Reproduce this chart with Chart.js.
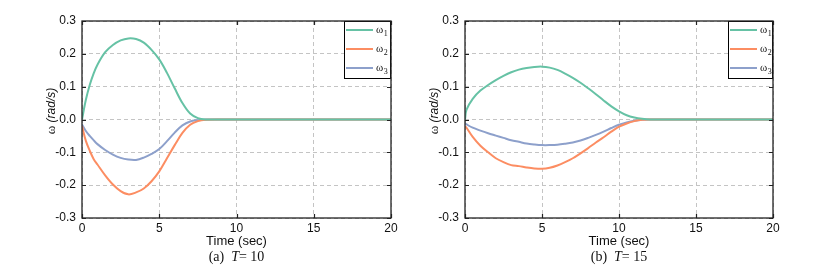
<!DOCTYPE html>
<html>
<head>
<meta charset="utf-8">
<script src="https://cdn.jsdelivr.net/npm/chart.js@4.4.0/dist/chart.umd.min.js"></script>
<style>
  html, body { margin: 0; padding: 0; background: #fff; }
  #wrap { position: relative; width: 828px; height: 279px; }
  canvas { position: absolute; top: 0; }
</style>
</head>
<body>
<div id="wrap">
  <canvas id="chartA" width="414" height="279" style="left:0"></canvas>
  <canvas id="chartB" width="414" height="279" style="left:414px"></canvas>
</div>
<script>
const seriesSubs = ['1', '2', '3'];
const seriesColors = ['#66c2a5', '#fc8d62', '#8da0cb'];
const xTicks = [0, 5, 10, 15, 20];
const yTicks = [-0.3, -0.2, -0.1, 0, 0.1, 0.2, 0.3];

// panel (a) T = 10
const timeA = [0, 0.25, 0.5, 0.75, 1, 1.5, 2, 2.5, 3, 3.5, 4, 4.5, 5, 5.5, 6, 6.5, 7, 7.5, 8, 9, 10, 20];
const w1A = [0, 0.06, 0.105, 0.14, 0.167, 0.205, 0.227, 0.241, 0.247, 0.245, 0.234, 0.212, 0.183, 0.142, 0.095, 0.05, 0.018, 0.004, 0, 0, 0, 0];
const w2A = [-0.02, -0.065, -0.095, -0.12, -0.137, -0.17, -0.198, -0.218, -0.228, -0.222, -0.21, -0.188, -0.158, -0.118, -0.078, -0.041, -0.016, -0.005, -0.001, 0, 0, 0];
const w3A = [-0.015, -0.035, -0.05, -0.063, -0.075, -0.093, -0.107, -0.117, -0.122, -0.123, -0.116, -0.105, -0.09, -0.066, -0.04, -0.018, -0.006, -0.002, 0, 0, 0, 0];

// panel (b) T = 15
const timeB = [0, 0.1, 0.5, 1, 1.5, 2, 2.5, 3, 3.5, 4, 4.5, 5, 5.5, 6, 6.5, 7, 7.5, 8, 8.5, 9, 9.5, 10, 10.5, 11, 11.5, 12, 15, 20];
const w1B = [0, 0.03, 0.063, 0.088, 0.105, 0.12, 0.133, 0.144, 0.152, 0.157, 0.16, 0.161, 0.158, 0.151, 0.14, 0.127, 0.112, 0.095, 0.077, 0.058, 0.04, 0.025, 0.013, 0.006, 0.002, 0, 0, 0];
const w2B = [-0.02, -0.025, -0.053, -0.08, -0.1, -0.118, -0.13, -0.139, -0.142, -0.146, -0.149, -0.15, -0.147, -0.14, -0.13, -0.118, -0.103, -0.087, -0.07, -0.054, -0.037, -0.022, -0.012, -0.005, -0.001, 0, 0, 0];
const w3B = [-0.012, -0.015, -0.025, -0.034, -0.042, -0.049, -0.056, -0.063, -0.068, -0.073, -0.076, -0.078, -0.078, -0.077, -0.074, -0.07, -0.064, -0.056, -0.047, -0.037, -0.026, -0.016, -0.009, -0.004, -0.001, 0, 0, 0];

const SANS = '"Liberation Sans", Arial, sans-serif';
const SERIF = '"Liberation Serif", "Times New Roman", serif';

const framePlugin = {
    id: 'frame',
    afterDraw(chart, args, opts) {
        const ctx = chart.ctx;
        const a = chart.chartArea;
        const xs = chart.scales.x, ys = chart.scales.y;
        ctx.save();

        // inward ticks
        ctx.strokeStyle = '#222';
        ctx.lineWidth = 1.2;
        ctx.beginPath();
        xTicks.forEach(v => {
            const px = Math.round(xs.getPixelForValue(v)) + 0.5;
            ctx.moveTo(px, a.bottom); ctx.lineTo(px, a.bottom - 4);
            ctx.moveTo(px, a.top); ctx.lineTo(px, a.top + 4);
        });
        yTicks.forEach(v => {
            const py = Math.round(ys.getPixelForValue(v)) + 0.5;
            ctx.moveTo(a.left, py); ctx.lineTo(a.left + 4, py);
            ctx.moveTo(a.right, py); ctx.lineTo(a.right - 4, py);
        });
        ctx.stroke();

        // legend box
        const lw = opts.legendWidth;
        const bx = a.right - lw, by = a.top;
        ctx.fillStyle = '#fff';
        ctx.fillRect(bx, by, lw, 57);
        ctx.strokeStyle = '#000';
        ctx.lineWidth = 1;
        ctx.strokeRect(bx + 0.5, by + 0.5, lw - 1, 57);
        seriesColors.forEach((c, i) => {
            const ly = by + 9 + i * 19;
            ctx.strokeStyle = c;
            ctx.lineWidth = 2;
            ctx.beginPath();
            ctx.moveTo(bx + 2, ly); ctx.lineTo(bx + 29, ly);
            ctx.stroke();
            ctx.fillStyle = '#111';
            ctx.textAlign = 'left';
            ctx.textBaseline = 'alphabetic';
            ctx.font = '11px ' + SERIF;
            ctx.fillText('ω', bx + 32, ly + 3);
            const w = ctx.measureText('ω').width;
            ctx.font = '8px ' + SERIF;
            ctx.fillText(seriesSubs[i], bx + 32 + w + 0.5, ly + 6);
        });

        // frame
        ctx.strokeStyle = '#222';
        ctx.lineWidth = 1.3;
        ctx.strokeRect(a.left, a.top, a.right - a.left, a.bottom - a.top);

        // x title + caption
        const cx = (a.left + a.right) / 2;
        ctx.fillStyle = '#111';
        ctx.textAlign = 'center';
        ctx.textBaseline = 'alphabetic';
        ctx.font = '13px ' + SANS;
        ctx.fillText('Time (sec)', cx, 245);

        const p1 = opts.caption + '  ';
        const p2 = 'T';
        const p3 = '= ' + opts.T;
        ctx.font = '14px ' + SERIF;
        const w1 = ctx.measureText(p1).width;
        const w3 = ctx.measureText(p3).width;
        ctx.font = 'italic 14px ' + SERIF;
        const w2 = ctx.measureText(p2).width;
        let sx = cx - (w1 + w2 + w3) / 2;
        ctx.textAlign = 'left';
        ctx.font = '14px ' + SERIF;
        ctx.fillText(p1, sx, 261);
        ctx.font = 'italic 14px ' + SERIF;
        ctx.fillText(p2, sx + w1, 261);
        ctx.font = '14px ' + SERIF;
        ctx.fillText(p3, sx + w1 + w2, 261);

        // y title
        ctx.translate(a.left - 30, 111);
        ctx.rotate(-Math.PI / 2);
        ctx.font = '13px ' + SERIF;
        const tw1 = ctx.measureText('ω ').width;
        ctx.font = 'italic 12px ' + SANS;
        const tw2 = ctx.measureText('(rad/s)').width;
        let ty = -(tw1 + tw2) / 2;
        ctx.textBaseline = 'middle';
        ctx.font = '13px ' + SERIF;
        ctx.fillText('ω ', ty, 0);
        ctx.font = 'italic 12px ' + SANS;
        ctx.fillText('(rad/s)', ty + tw1, 0);

        ctx.restore();
    }
};

function buildData(time, vals) {
    return time.map((t, i) => ({ x: t, y: vals[i] }));
}

function makeChart(id, time, w1, w2, w3, pad, caption, T, legendWidth) {
    const ctx = document.getElementById(id);
    return new Chart(ctx, {
        type: 'line',
        data: {
            datasets: [w1, w2, w3].map((vals, i) => ({
                label: 'ω' + seriesSubs[i],
                data: buildData(time, vals),
                borderColor: seriesColors[i],
                backgroundColor: seriesColors[i],
                borderWidth: 2,
                pointRadius: 0,
                tension: 0.35,
                fill: false
            }))
        },
        options: {
            responsive: false,
            animation: false,
            devicePixelRatio: 1,
            layout: { padding: pad },
            plugins: {
                legend: { display: false },
                tooltip: { enabled: false },
                frame: { caption: caption, T: T, legendWidth: legendWidth }
            },
            scales: {
                x: {
                    type: 'linear',
                    min: 0,
                    max: 20,
                    afterFit: (s) => { s.height = 30; },
                    ticks: {
                        stepSize: 5,
                        padding: 3,
                        color: '#111',
                        font: { family: SANS, size: 12 }
                    },
                    grid: { color: '#c4c4c4', drawTicks: false },
                    border: { display: false, dash: [4, 3] }
                },
                y: {
                    min: -0.3,
                    max: 0.3,
                    afterFit: (s) => { s.width = 40; },
                    ticks: {
                        stepSize: 0.1,
                        padding: 6,
                        color: '#111',
                        font: { family: SANS, size: 12 },
                        callback: (v) => Math.abs(v) < 1e-9 ? '0.0' : v.toFixed(1)
                    },
                    grid: { color: '#c4c4c4', drawTicks: false },
                    border: { display: false, dash: [4, 3] }
                }
            }
        },
        plugins: [framePlugin]
    });
}

makeChart('chartA', timeA, w1A, w2A, w3A, { left: 42, right: 23, top: 21, bottom: 31 }, '(a)', '10', 47);
makeChart('chartB', timeB, w1B, w2B, w3B, { left: 11, right: 55, top: 21, bottom: 31 }, '(b)', '15', 45);
</script>
</body>
</html>
